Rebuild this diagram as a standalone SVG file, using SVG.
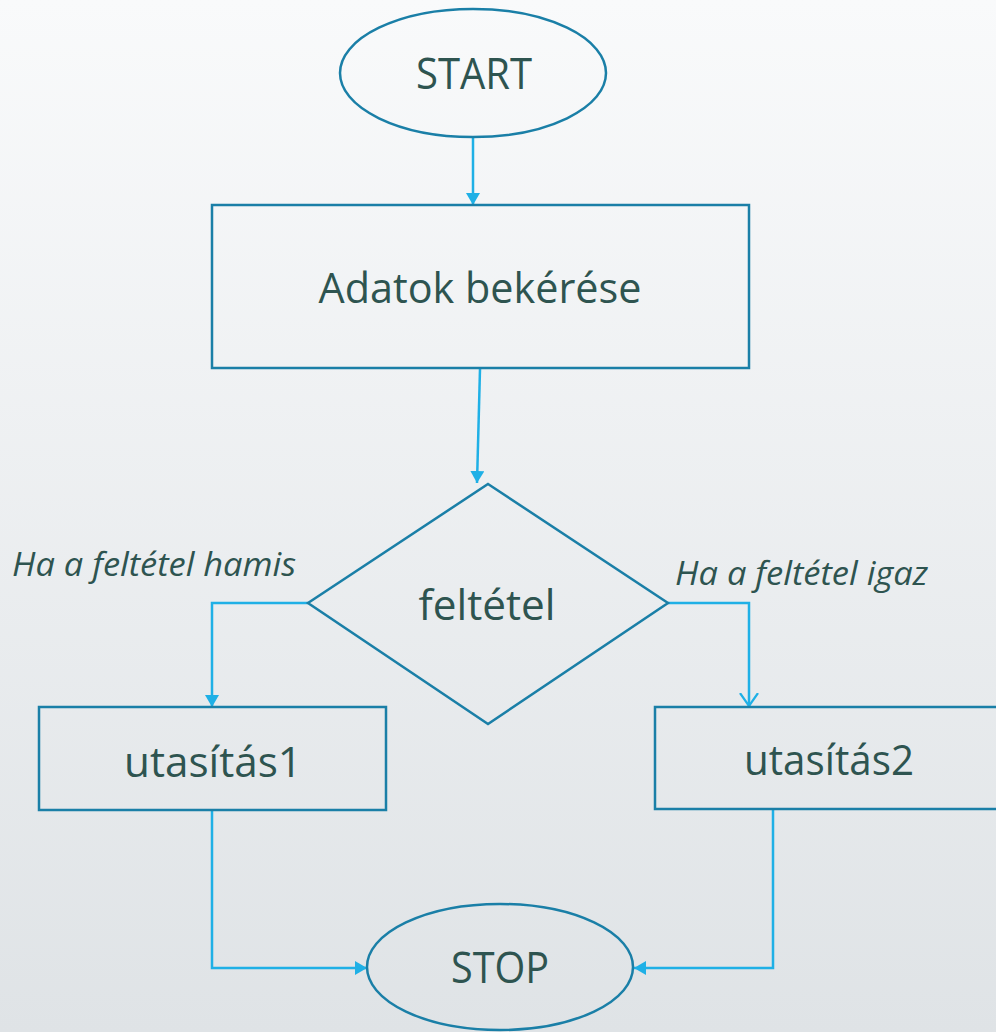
<svg xmlns="http://www.w3.org/2000/svg" width="996" height="1032" viewBox="0 0 996 1032">
  <defs>
    <linearGradient id="bg" x1="0" y1="0" x2="0" y2="1">
      <stop offset="0" stop-color="#f9fafb"/>
      <stop offset="1" stop-color="#dfe3e6"/>
    </linearGradient>
    <marker id="tri" viewBox="0 0 12 14" refX="12" refY="7" markerWidth="12" markerHeight="14" markerUnits="userSpaceOnUse" orient="auto">
      <path d="M0,0 L12,7 L0,14 Z" fill="#1fb0e6"/>
    </marker>
    <marker id="vee" viewBox="0 0 14 20" refX="13" refY="10" markerWidth="14" markerHeight="20" markerUnits="userSpaceOnUse" orient="auto">
      <path d="M0,1 L13,10 L0,19" fill="none" stroke="#1fb0e6" stroke-width="2.2"/>
    </marker>
    <style>
      .shape { fill: none; stroke: #1a7fa7; stroke-width: 2.5; }
      .conn { fill: none; stroke: #1fb0e6; stroke-width: 2.5; }
      .lbl { font-family: "Open Sans", "Liberation Sans", sans-serif; fill: #2e5450; text-anchor: middle; }
      .note { font-family: "Open Sans", "Liberation Sans", sans-serif; font-style: italic; fill: #2e5450; font-size: 32px; }
    </style>
  </defs>
  <rect x="0" y="0" width="996" height="1032" fill="url(#bg)"/>

  <g id="connectors">
    <line class="conn" x1="473" y1="137" x2="473" y2="205" marker-end="url(#tri)"/>
    <line class="conn" x1="480" y1="369" x2="477" y2="483" marker-end="url(#tri)"/>
    <polyline class="conn" points="308,603 212,603 212,707" marker-end="url(#tri)"/>
    <polyline class="conn" points="668,603 749,603 749,706" marker-end="url(#vee)"/>
    <polyline class="conn" points="212,810 212,968 367,968" marker-end="url(#tri)"/>
    <polyline class="conn" points="773,810 773,968 634,968" marker-end="url(#tri)"/>
  </g>

  <g id="start">
    <ellipse class="shape" cx="473" cy="73" rx="133" ry="64"/>
    <text class="lbl" x="474" y="89" font-size="43" textLength="116" lengthAdjust="spacingAndGlyphs">START</text>
  </g>

  <g id="input">
    <rect class="shape" x="212" y="205" width="537" height="163"/>
    <text class="lbl" x="480" y="303" font-size="42" textLength="323" lengthAdjust="spacingAndGlyphs">Adatok bekérése</text>
  </g>

  <g id="condition">
    <polygon class="shape" points="488,484 668,603 488,724 308,603"/>
    <text class="lbl" x="487" y="620" font-size="42" textLength="137" lengthAdjust="spacingAndGlyphs">feltétel</text>
  </g>

  <g id="label-false">
    <text class="note" x="12" y="576" textLength="284" lengthAdjust="spacingAndGlyphs">Ha a feltétel hamis</text>
  </g>

  <g id="label-true">
    <text class="note" x="675" y="585" textLength="253" lengthAdjust="spacingAndGlyphs">Ha a feltétel igaz</text>
  </g>

  <g id="stmt1">
    <rect class="shape" x="39" y="707" width="347" height="103"/>
    <text class="lbl" x="213" y="777" font-size="42" textLength="178" lengthAdjust="spacingAndGlyphs">utasítás1</text>
  </g>

  <g id="stmt2">
    <rect class="shape" x="655" y="707" width="345" height="102"/>
    <text class="lbl" x="829" y="775" font-size="42" textLength="170" lengthAdjust="spacingAndGlyphs">utasítás2</text>
  </g>

  <g id="stop">
    <ellipse class="shape" cx="500" cy="967" rx="133" ry="63"/>
    <text class="lbl" x="500" y="983" font-size="43" textLength="98" lengthAdjust="spacingAndGlyphs">STOP</text>
  </g>
</svg>
